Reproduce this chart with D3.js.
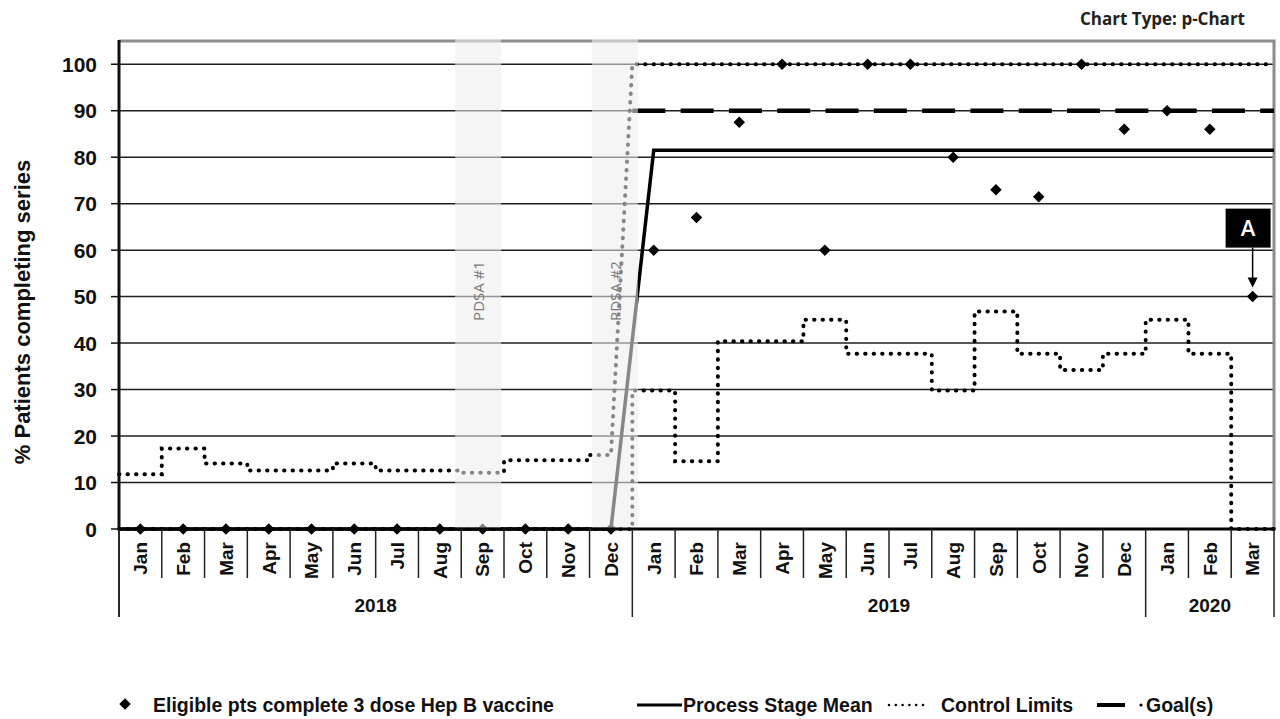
<!DOCTYPE html>
<html>
<head>
<meta charset="utf-8">
<script src="https://cdn.jsdelivr.net/npm/d3@7"></script>
<style>
  html, body { margin: 0; padding: 0; background: #fff; }
  svg { display: block; }
</style>
</head>
<body>
<svg id="chart" width="1280" height="719"></svg>
<script>
// ---------------- DATA ----------------
const months = ["Jan","Feb","Mar","Apr","May","Jun","Jul","Aug","Sep","Oct","Nov","Dec",
                "Jan","Feb","Mar","Apr","May","Jun","Jul","Aug","Sep","Oct","Nov","Dec",
                "Jan","Feb","Mar"];
const yearLabels = ["2018", "2019", "2020"];
const yearCounts = [12, 12, 3];
const values = [0,0,0,0,0,0,0,0,0,0,0,0,
                60,67,87.5,100,60,100,100,80,73,71.5,100,86,
                90,86,50];
const stageMean = [0,0,0,0,0,0,0,0,0,0,0,0,
                   81.5,81.5,81.5,81.5,81.5,81.5,81.5,81.5,81.5,81.5,81.5,81.5,
                   81.5,81.5,81.5];
const ucl = [11.8,17.3,14.1,12.6,12.6,14.1,12.6,12.6,12.1,14.8,14.8,15.9,
             100,100,100,100,100,100,100,100,100,100,100,100,
             100,100,100];
const lcl = [0,0,0,0,0,0,0,0,0,0,0,0,
             29.8,14.6,40.4,40.4,45,37.7,37.7,29.8,46.8,37.7,34.2,37.7,
             45,37.7,0];
const goal = [null,null,null,null,null,null,null,null,null,null,null,null,
              90,90,90,90,90,90,90,90,90,90,90,90,
              90,90,90];
const stageStarts = [0, 12];
const yTicks = [0,10,20,30,40,50,60,70,80,90,100];
const pdsa = [{label: "PDSA #1", month: 8}, {label: "PDSA #2", month: 11}];
const annotation = {label: "A", month: 26};
const legendLabels = ["Eligible pts complete 3 dose Hep B vaccine", "Process Stage Mean", "Control Limits", "Goal(s)"];

// ---------------- LAYOUT ----------------
const L = 119, R = 1274, T = 41, B = 529;
const svg = d3.select("#chart");
const idx = d3.range(months.length);
const x = d3.scaleBand().domain(idx).range([L, R]).padding(0);
const bw = x.bandwidth();
const cx = i => x(i) + bw / 2;
const y = d3.scaleLinear().domain([0, 105]).range([B, T]);
const ARIAL = "'Liberation Sans', Arial, sans-serif";
const CAL = "'Open Sans', 'Noto Sans', sans-serif";
const pdsaShift = [-4.5, 4];   // drawing offsets of the PDSA shading vs. month centre

// grid lines
svg.append("g").selectAll("line").data(yTicks.filter(d => d > 0)).join("line")
  .attr("x1", L).attr("x2", R).attr("y1", d => y(d)).attr("y2", d => y(d))
  .attr("stroke", "#1e1e1e").attr("stroke-width", 1.5);

// top & right frame
svg.append("line").attr("x1", L).attr("x2", R + 1.5).attr("y1", T).attr("y2", T)
  .attr("stroke", "#8c8c8c").attr("stroke-width", 3);
svg.append("line").attr("x1", R).attr("x2", R).attr("y1", T).attr("y2", B)
  .attr("stroke", "#8c8c8c").attr("stroke-width", 3);

// control limit step paths
function limitPoints(arr, diagonalBreak) {
  const pts = [];
  arr.forEach((v, i) => {
    const isBeforeBreak = stageStarts.includes(i + 1);
    pts.push([x(i), v]);
    if (diagonalBreak && isBeforeBreak) pts.push([cx(i), v]);
    else pts.push([x(i) + bw, v]);
  });
  return pts;
}
const lineXY = d3.line().x(d => d[0]).y(d => y(d[1]));
const dotted = sel => sel.attr("fill", "none").attr("stroke", "#000")
  .attr("stroke-width", 4).attr("stroke-linecap", "round").attr("stroke-dasharray", "0.4,8.1");

svg.append("path").datum(limitPoints(ucl, true)).attr("d", lineXY).call(dotted);
svg.append("path").datum(limitPoints(lcl, false)).attr("d", lineXY).call(dotted);

// goal
const goalPts = [];
goal.forEach((v, i) => { if (v != null) { goalPts.push([x(i), v]); goalPts.push([x(i) + bw, v]); } });
svg.append("path").datum(goalPts).attr("d", lineXY)
  .attr("fill", "none").attr("stroke", "#000").attr("stroke-width", 4.5)
  .attr("stroke-dasharray", "33,15.3");

// process stage mean
const meanPts = [[L, stageMean[0]]].concat(stageMean.map((v, i) => [cx(i), v]), [[R, stageMean[stageMean.length - 1]]]);
svg.append("path").datum(meanPts).attr("d", lineXY)
  .attr("fill", "none").attr("stroke", "#000").attr("stroke-width", 3.5)
  .attr("stroke-linejoin", "miter");

// data diamonds
const diamond = d3.symbol().type(d3.symbolSquare).size(66);
svg.append("g").selectAll("path").data(values).join("path")
  .attr("d", diamond)
  .attr("transform", (d, i) => `translate(${cx(i)},${y(d)}) rotate(45)`)
  .attr("fill", "#000");

// PDSA bands (translucent overlay)
svg.append("g").selectAll("rect").data(pdsa).join("rect")
  .attr("x", (d, k) => cx(d.month) + pdsaShift[k] - 23).attr("width", 46)
  .attr("y", T - 2).attr("height", B - T + 2)
  .attr("fill", "rgb(237,237,237)").attr("fill-opacity", 0.57);
svg.append("g").selectAll("text").data(pdsa).join("text")
  .attr("transform", (d, k) => `translate(${cx(d.month) + pdsaShift[k] + 1},291) rotate(-90)`)
  .attr("text-anchor", "middle").attr("dy", "0.35em")
  .attr("font-family", CAL).attr("font-size", 15).attr("fill", "#7a7a7a")
  .text(d => d.label);

// y axis & ticks
svg.append("line").attr("x1", L).attr("x2", L).attr("y1", T - 1).attr("y2", 617)
  .attr("stroke", "#111").attr("stroke-width", 1.5);
svg.append("line").attr("x1", L).attr("x2", L).attr("y1", T - 1).attr("y2", B)
  .attr("stroke", "#111").attr("stroke-width", 3);
svg.append("g").selectAll("line").data(yTicks).join("line")
  .attr("x1", L - 8).attr("x2", L).attr("y1", d => y(d)).attr("y2", d => y(d))
  .attr("stroke", "#111").attr("stroke-width", 1.5);
svg.append("g").selectAll("text").data(yTicks).join("text")
  .attr("x", 97).attr("y", d => y(d)).attr("dy", "0.36em")
  .attr("text-anchor", "end").attr("font-family", ARIAL).attr("font-weight", "bold")
  .attr("font-size", 21).attr("fill", "#111").text(d => d);
svg.append("text")
  .attr("transform", `translate(22,${(T + B) / 2 + 27}) rotate(-90)`)
  .attr("text-anchor", "middle").attr("dy", "0.35em")
  .attr("font-family", ARIAL).attr("font-weight", "bold").attr("font-size", 22)
  .attr("fill", "#111").text("% Patients completing series");

// x axis line
svg.append("line").attr("x1", L).attr("x2", R + 1.5).attr("y1", B).attr("y2", B)
  .attr("stroke", "#000").attr("stroke-width", 3);

// month separators and year separators
const yearBounds = [0];
yearCounts.forEach(c => yearBounds.push(yearBounds[yearBounds.length - 1] + c));
const boundaries = d3.range(months.length + 1);
svg.append("g").selectAll("line").data(boundaries).join("line")
  .attr("x1", i => L + i * bw).attr("x2", i => L + i * bw)
  .attr("y1", B).attr("y2", i => yearBounds.includes(i) ? 617 : 578)
  .attr("stroke", "#222").attr("stroke-width", 1.5);

svg.append("g").selectAll("text").data(months).join("text")
  .attr("transform", (d, i) => `translate(${cx(i)},542) rotate(-90)`)
  .attr("text-anchor", "end").attr("dy", "0.36em")
  .attr("font-family", ARIAL).attr("font-weight", "bold").attr("font-size", 19)
  .attr("fill", "#111").text(d => d);

svg.append("g").selectAll("text").data(yearLabels).join("text")
  .attr("x", (d, k) => (L + yearBounds[k] * bw + L + yearBounds[k + 1] * bw) / 2)
  .attr("y", 612).attr("text-anchor", "middle")
  .attr("font-family", ARIAL).attr("font-weight", "bold").attr("font-size", 19)
  .attr("fill", "#111").text(d => d);

// chart type
svg.append("text").attr("x", 1245).attr("y", 25).attr("text-anchor", "end")
  .attr("font-family", CAL).attr("font-weight", "bold").attr("font-size", 17)
  .attr("fill", "#222").text("Chart Type: p-Chart");

// annotation A
const ax = cx(annotation.month), ay = y(values[annotation.month]);
svg.append("rect").attr("x", ax - 27).attr("y", ay - 88).attr("width", 45).attr("height", 39).attr("fill", "#000");
svg.append("text").attr("x", ax - 4.5).attr("y", ay - 68.5).attr("dy", "0.36em")
  .attr("text-anchor", "middle").attr("font-family", CAL).attr("font-weight", "600")
  .attr("font-size", 22).attr("fill", "#fff").text(annotation.label);
svg.append("line").attr("x1", ax).attr("x2", ax).attr("y1", ay - 49).attr("y2", ay - 18)
  .attr("stroke", "#000").attr("stroke-width", 1.5);
svg.append("path").attr("d", `M${ax - 5},${ay - 19} L${ax + 5},${ay - 19} L${ax},${ay - 9} Z`).attr("fill", "#000");

// legend
const ly = 705;
const lg = svg.append("g").attr("font-family", ARIAL).attr("font-weight", "bold")
  .attr("font-size", 19.5).attr("fill", "#111");
lg.append("path").attr("d", diamond).attr("transform", `translate(125,${ly - 1}) rotate(45)`).attr("fill", "#000");
lg.append("text").attr("x", 153).attr("y", ly).attr("dy", "0.35em").text(legendLabels[0]);
lg.append("line").attr("x1", 637).attr("x2", 682).attr("y1", ly).attr("y2", ly).attr("stroke", "#000").attr("stroke-width", 3);
lg.append("text").attr("x", 683).attr("y", ly).attr("dy", "0.35em").text(legendLabels[1]);
lg.append("line").attr("x1", 889).attr("x2", 924).attr("y1", ly).attr("y2", ly)
  .attr("stroke", "#000").attr("stroke-width", 2.6).attr("stroke-linecap", "round").attr("stroke-dasharray", "0,6.8");
lg.append("text").attr("x", 941).attr("y", ly).attr("dy", "0.35em").text(legendLabels[2]);
lg.append("line").attr("x1", 1097).attr("x2", 1125).attr("y1", ly).attr("y2", ly).attr("stroke", "#000").attr("stroke-width", 4);
lg.append("circle").attr("cx", 1141).attr("cy", ly).attr("r", 1.6).attr("fill", "#000");
lg.append("text").attr("x", 1146).attr("y", ly).attr("dy", "0.35em").text(legendLabels[3]);
</script>
</body>
</html>
